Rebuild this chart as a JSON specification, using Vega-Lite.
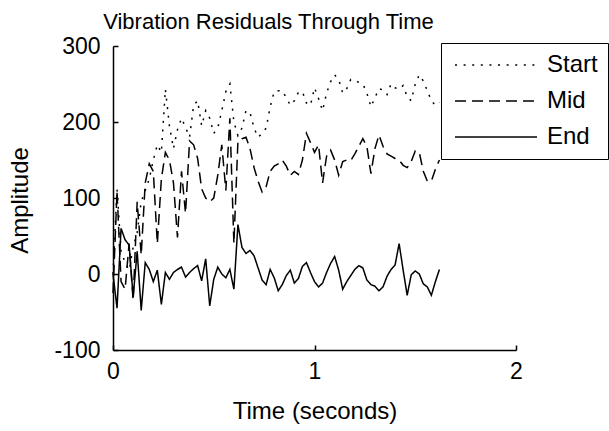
{
  "$schema": "https://vega.github.io/schema/vega-lite/v6.json",
  "autosize": "none",
  "width": 403,
  "height": 304,
  "padding": {"left": 113, "top": 46, "right": 93, "bottom": 81},
  "background": "white",
  "config": {
    "view": {"stroke": null},
    "font": "Liberation Sans",
    "axis": {"labelFont": "Liberation Sans", "titleFont": "Liberation Sans", "labelColor": "black", "titleColor": "black", "domainColor": "black", "tickColor": "black", "grid": false, "titleFontWeight": "normal", "domainWidth": 1.5, "tickWidth": 1.5}
  },
  "title": {"text": "Vibration Residuals Through Time", "anchor": "middle", "frame": "group", "dx": -46, "dy": 20, "offset": 4, "baseline": "alphabetic", "fontSize": 22, "fontWeight": "normal", "font": "Liberation Sans", "color": "black"},
  "data": {"values": [
    {"t":0.00,"Start":0,"Mid":-25,"End":0},
    {"t":0.02,"Start":112,"Mid":108,"End":-45},
    {"t":0.04,"Start":30,"Mid":-10,"End":60},
    {"t":0.06,"Start":15,"Mid":-20,"End":45},
    {"t":0.08,"Start":5,"Mid":40,"End":38},
    {"t":0.10,"Start":35,"Mid":-35,"End":-30},
    {"t":0.12,"Start":55,"Mid":95,"End":30},
    {"t":0.14,"Start":95,"Mid":25,"End":-48},
    {"t":0.16,"Start":110,"Mid":120,"End":15},
    {"t":0.18,"Start":125,"Mid":145,"End":6},
    {"t":0.20,"Start":150,"Mid":135,"End":-10},
    {"t":0.22,"Start":170,"Mid":40,"End":5},
    {"t":0.24,"Start":160,"Mid":125,"End":-40},
    {"t":0.26,"Start":243,"Mid":160,"End":2},
    {"t":0.28,"Start":195,"Mid":150,"End":-7},
    {"t":0.30,"Start":165,"Mid":120,"End":2},
    {"t":0.32,"Start":190,"Mid":48,"End":6},
    {"t":0.34,"Start":205,"Mid":135,"End":9},
    {"t":0.36,"Start":193,"Mid":80,"End":-4},
    {"t":0.38,"Start":180,"Mid":175,"End":2},
    {"t":0.40,"Start":222,"Mid":170,"End":7},
    {"t":0.42,"Start":228,"Mid":152,"End":11},
    {"t":0.44,"Start":195,"Mid":112,"End":-9},
    {"t":0.46,"Start":215,"Mid":100,"End":20},
    {"t":0.48,"Start":205,"Mid":95,"End":-42},
    {"t":0.50,"Start":185,"Mid":100,"End":-7},
    {"t":0.52,"Start":192,"Mid":130,"End":9},
    {"t":0.54,"Start":215,"Mid":170,"End":0},
    {"t":0.56,"Start":240,"Mid":110,"End":-5},
    {"t":0.58,"Start":250,"Mid":205,"End":6},
    {"t":0.60,"Start":200,"Mid":40,"End":-20},
    {"t":0.62,"Start":182,"Mid":175,"End":65},
    {"t":0.64,"Start":192,"Mid":178,"End":35},
    {"t":0.66,"Start":215,"Mid":180,"End":27},
    {"t":0.68,"Start":212,"Mid":165,"End":31},
    {"t":0.70,"Start":192,"Mid":140,"End":24},
    {"t":0.72,"Start":180,"Mid":122,"End":8},
    {"t":0.74,"Start":185,"Mid":108,"End":-8},
    {"t":0.76,"Start":192,"Mid":115,"End":-14},
    {"t":0.78,"Start":220,"Mid":135,"End":6},
    {"t":0.80,"Start":240,"Mid":142,"End":-5},
    {"t":0.82,"Start":241,"Mid":145,"End":-22},
    {"t":0.84,"Start":241,"Mid":150,"End":-14},
    {"t":0.86,"Start":232,"Mid":142,"End":-2},
    {"t":0.88,"Start":222,"Mid":130,"End":5},
    {"t":0.90,"Start":228,"Mid":135,"End":-12},
    {"t":0.92,"Start":239,"Mid":131,"End":-6},
    {"t":0.94,"Start":240,"Mid":150,"End":10},
    {"t":0.96,"Start":225,"Mid":185,"End":15},
    {"t":0.98,"Start":222,"Mid":173,"End":2},
    {"t":1.00,"Start":245,"Mid":160,"End":-10},
    {"t":1.02,"Start":231,"Mid":170,"End":-17},
    {"t":1.04,"Start":215,"Mid":120,"End":-12},
    {"t":1.06,"Start":238,"Mid":155,"End":2},
    {"t":1.08,"Start":253,"Mid":163,"End":14},
    {"t":1.10,"Start":262,"Mid":150,"End":23},
    {"t":1.12,"Start":256,"Mid":130,"End":5},
    {"t":1.14,"Start":238,"Mid":148,"End":-20},
    {"t":1.16,"Start":244,"Mid":150,"End":-10},
    {"t":1.18,"Start":256,"Mid":149,"End":-2},
    {"t":1.20,"Start":255,"Mid":158,"End":6},
    {"t":1.22,"Start":252,"Mid":168,"End":11},
    {"t":1.24,"Start":250,"Mid":178,"End":8},
    {"t":1.26,"Start":238,"Mid":168,"End":-8},
    {"t":1.28,"Start":220,"Mid":132,"End":-14},
    {"t":1.30,"Start":232,"Mid":165,"End":-16},
    {"t":1.32,"Start":244,"Mid":183,"End":-22},
    {"t":1.34,"Start":242,"Mid":168,"End":-17},
    {"t":1.36,"Start":236,"Mid":158,"End":-3},
    {"t":1.38,"Start":250,"Mid":155,"End":6},
    {"t":1.40,"Start":245,"Mid":152,"End":12},
    {"t":1.42,"Start":243,"Mid":150,"End":40},
    {"t":1.44,"Start":248,"Mid":143,"End":5},
    {"t":1.46,"Start":233,"Mid":140,"End":-28},
    {"t":1.48,"Start":228,"Mid":148,"End":-1},
    {"t":1.50,"Start":250,"Mid":162,"End":4},
    {"t":1.52,"Start":262,"Mid":160,"End":0},
    {"t":1.54,"Start":254,"Mid":135,"End":-13},
    {"t":1.56,"Start":241,"Mid":122,"End":-17},
    {"t":1.58,"Start":228,"Mid":122,"End":-28},
    {"t":1.60,"Start":222,"Mid":138,"End":-10},
    {"t":1.62,"Start":226,"Mid":150,"End":6}
  ]},
  "transform": [{"fold": ["Start", "Mid", "End"], "as": ["series", "value"]}],
  "mark": {"type": "line", "strokeWidth": 1.5, "color": "black"},
  "encoding": {
    "x": {"field": "t", "type": "quantitative", "scale": {"domain": [0, 2], "nice": false},
      "axis": {"values": [0, 1, 2], "labelExpr": "'' + datum.value", "title": "Time (seconds)", "tickSize": -5, "labelPadding": 15, "labelFontSize": 23, "titleFontSize": 24, "titleY": 68, "titleBaseline": "alphabetic", "labelFlush": false}},
    "y": {"field": "value", "type": "quantitative", "scale": {"domain": [-100, 300], "nice": false, "zero": false},
      "axis": {"values": [-100, 0, 100, 200, 300], "labelExpr": "datum.value < 0 ? '-' + abs(datum.value) : '' + datum.value", "title": "Amplitude", "tickSize": -5, "labelPadding": 18, "labelFontSize": 23, "titleFontSize": 24, "titleX": -93, "titleY": 154, "titleAngle": -90, "titleBaseline": "middle", "titleAlign": "center", "labelFlush": false}},
    "strokeDash": {"field": "series", "type": "nominal",
      "scale": {"domain": ["Start", "Mid", "End"], "range": [[2, 6.6], [11, 6], [1, 0]]},
      "legend": {"title": null, "orient": "none", "legendX": 328, "legendY": -3, "fillColor": "white", "strokeColor": "black", "padding": 10, "symbolType": "M-4,0H4", "symbolSize": 420, "symbolOffset": 33, "symbolStrokeWidth": 1.5, "symbolStrokeColor": "black", "labelFontSize": 24, "labelFont": "Liberation Sans", "labelColor": "black", "labelOffset": 39, "rowPadding": 12}
    },
    "detail": {"field": "series"}
  }
}
